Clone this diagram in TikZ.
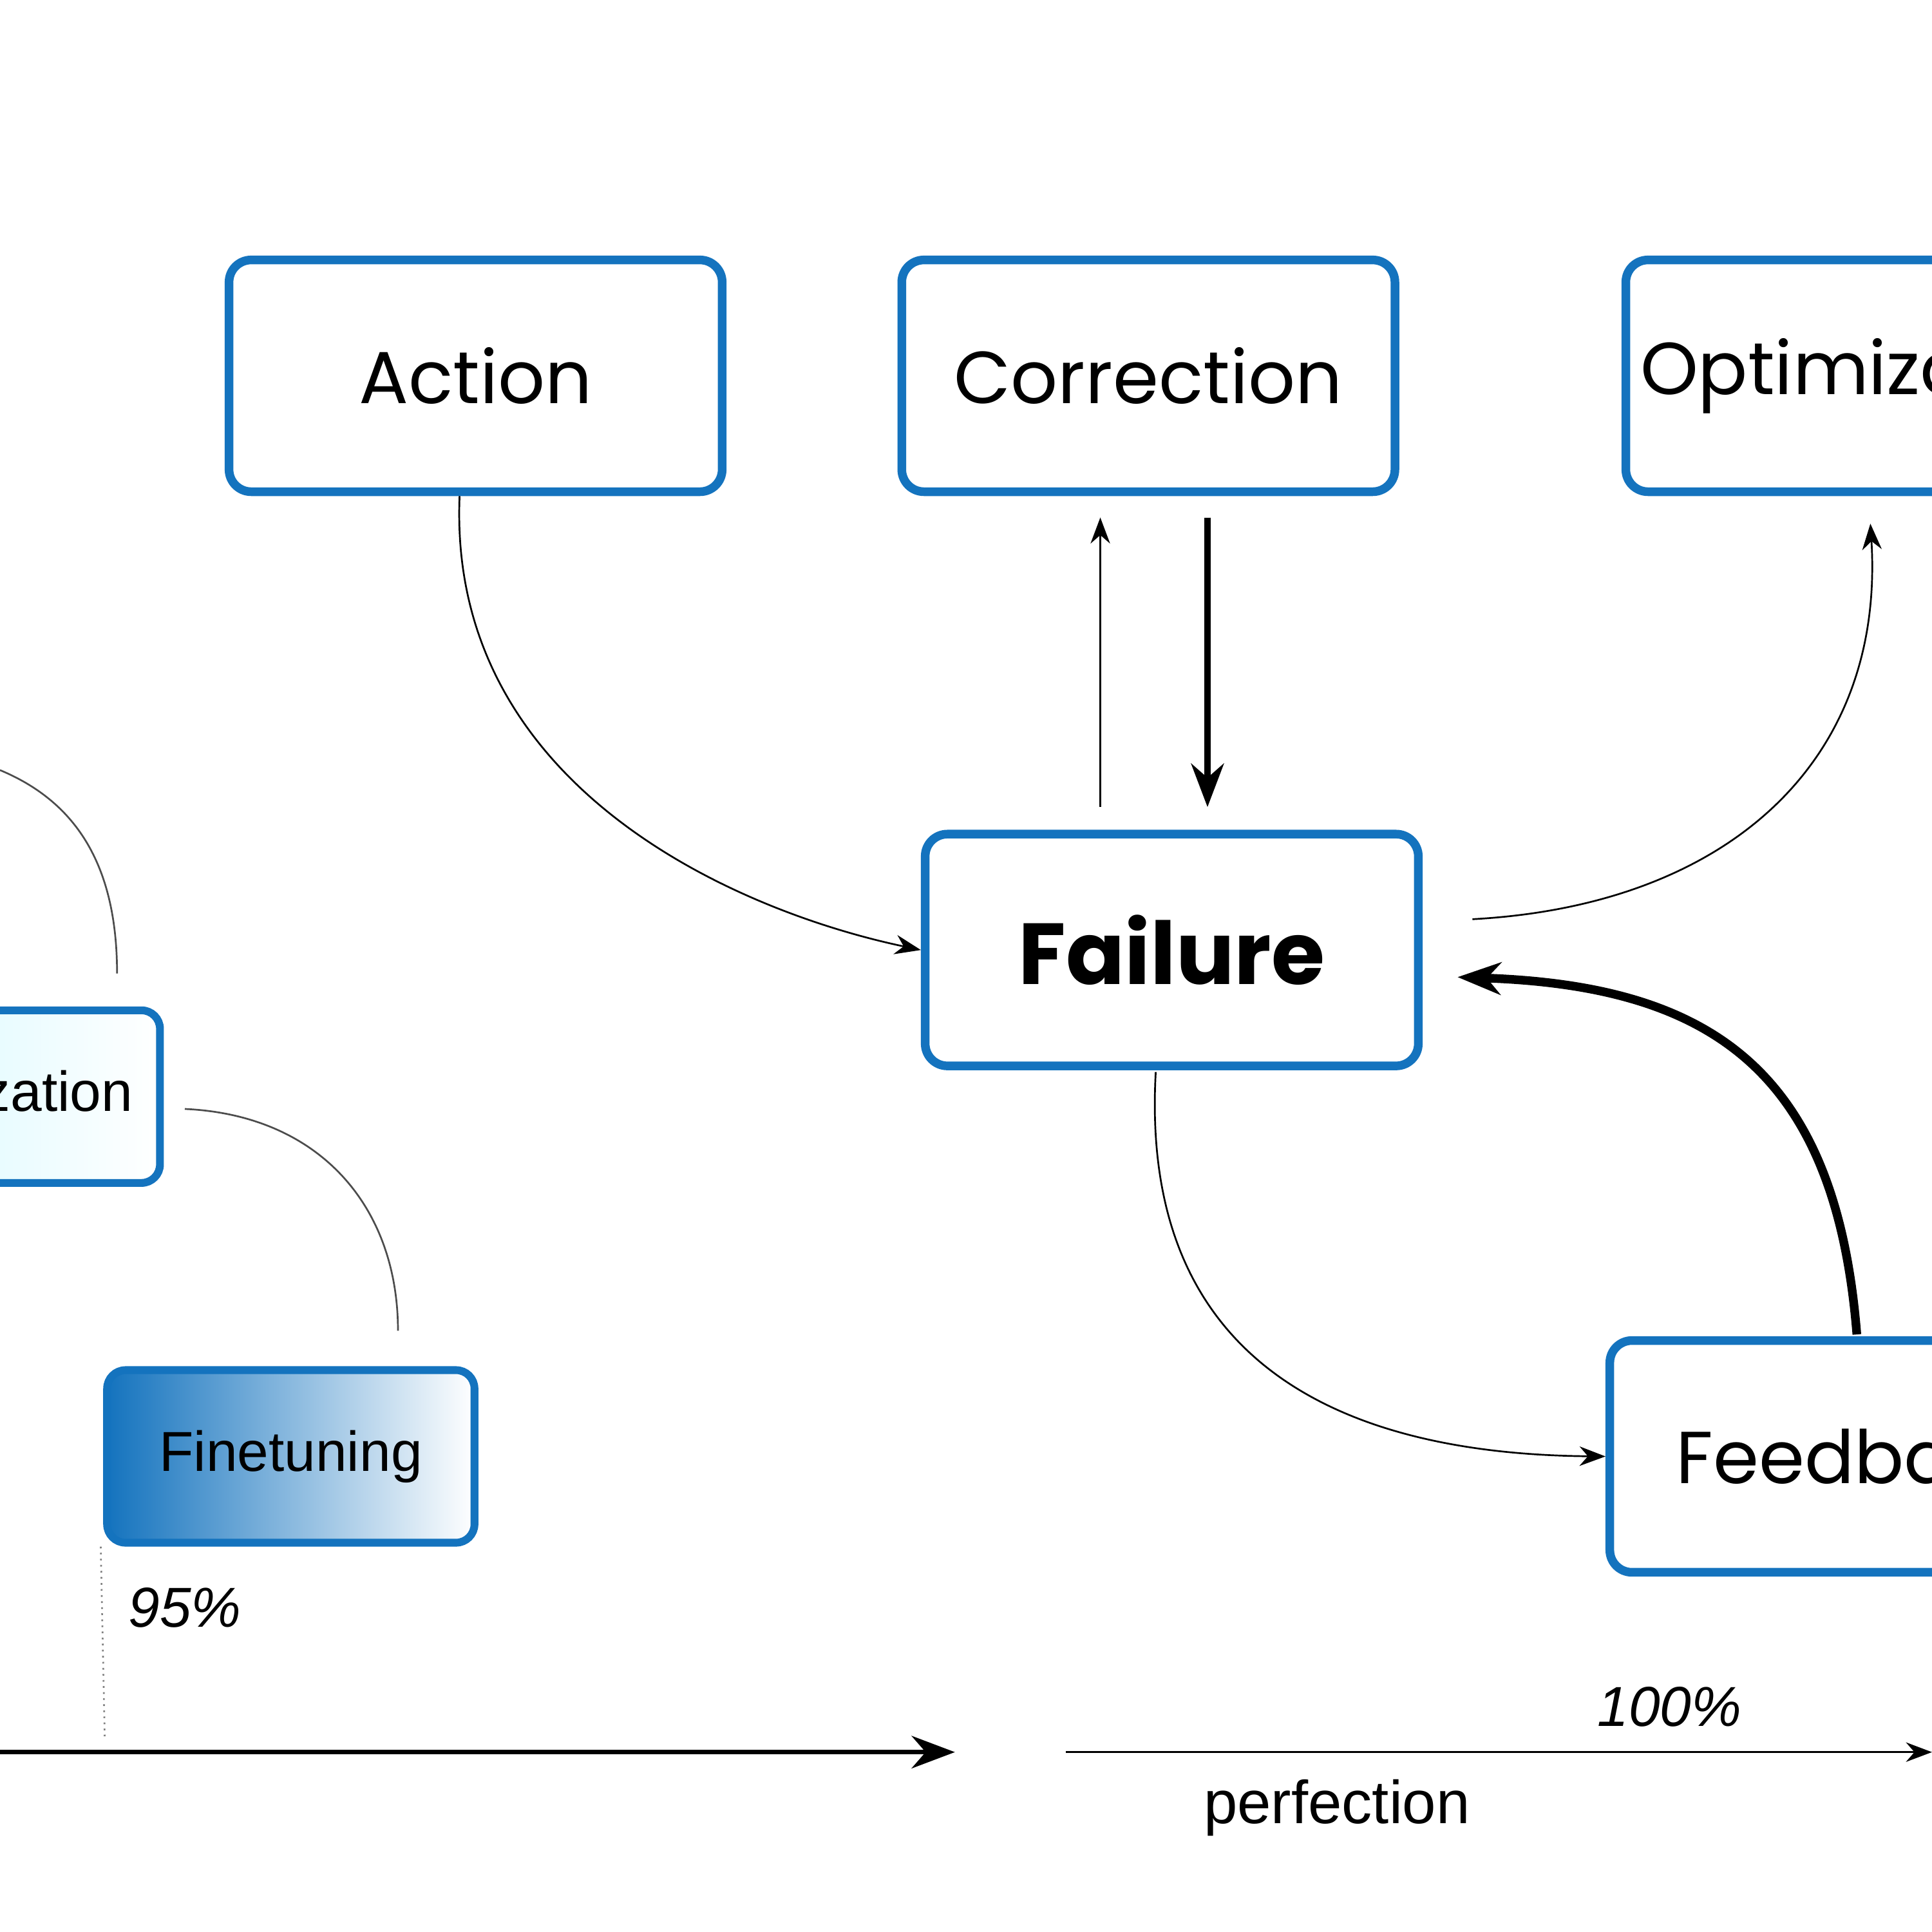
\documentclass[tikz,border=0pt]{standalone}
\usepackage{fontspec}
\setmainfont{Poppins}
\newfontfamily\helv{Liberation Sans}
\usetikzlibrary{arrows.meta,positioning,shapes.geometric}
\definecolor{boxblue}{RGB}{20,115,190}
\tikzstyle{stage} = [rectangle, rounded corners=0.18cm, minimum width=4cm, minimum height=1.88cm, text centered, draw=boxblue, line width=2pt, font=\fontsize{17}{20}\selectfont]
\tikzstyle{small} = [rectangle, rounded corners=0.15cm, minimum width=2.98cm, minimum height=1.4cm, text centered, draw=boxblue, line width=1.8pt, font=\helv\fontsize{13}{16}\selectfont]
\tikzstyle{arrow} = [thin,-{Stealth[length=6pt]}]
\tikzstyle{bigarrow} = [line width=1.6pt,-{Stealth[length=10pt]}]
\begin{document}
\begin{tikzpicture}[x=0.01cm,y=-0.01cm]
                    \useasboundingbox (0,0) rectangle (1568,1568);
                    \clip (0,0) rectangle (1568,1568);
                    \node (Act) [stage] at (386,305) {Action};
                    \node (Cor) [stage] at (932,305) {Correction};
                    \node (Opt) [stage, anchor=west] at (1316,305) {Optimization};
                    \node (Fail) [stage, font=\bfseries\fontsize{20}{24}\selectfont] at (951,771) {Failure};
                    \node (Feed) [stage, anchor=west] at (1303,1182) {Feedback};
                    \node (Opt2) [small, anchor=east, left color=blue!15!cyan!20, right color=white, shading angle=90] at (133,890) {Optimization};
                    \node (Fine) [small, left color=boxblue, right color=white] at (236,1182) {Finetuning};
                    \node (pct) [font=\helv\itshape\fontsize{13}{16}\selectfont] at (150,1305) {95\%};
                    \node (full) [font=\helv\itshape\fontsize{13}{16}\selectfont] at (1355,1385) {100\%};
                    \node (perf) [font=\helv\fontsize{14}{17}\selectfont] at (1085,1467) {perfection};
                    \coordinate (A0) at (0,1422);
                    \coordinate (A1) at (775,1422);
                    \coordinate (B0) at (865,1422);
                    \coordinate (B1) at (1568,1422);
                    \coordinate (D1) at (85,1410);
                    \draw [bigarrow, line width=1pt] (A0) -- (A1);
                    \draw [arrow] (B0) -- (B1);
                    \draw [densely dotted, gray] (Fine.south west) ++(-2,0) -- (D1);
                    % links between the stages
                    \draw [arrow] (Act.south) ++(-13,0) .. controls (363,640) and (600,740) .. (Fail.west);
                    \draw [arrow] (893,655) -- (893,420);
                    \draw [bigarrow] (980,420) -- (980,655);
                    \draw [arrow] (1195,746) .. controls (1400,735) and (1530,620) .. (1518,425);
                    \draw [arrow] (938,870) .. controls (925,1100) and (1080,1180) .. (Feed.west);
                    \draw [bigarrow, line width=2pt] (1507,1083) .. controls (1490,870) and (1390,800) .. (1183,793);
                    % faded left part
                    \draw [gray!60!black, thin] (0,625) .. controls (60,650) and (95,700) .. (95,790);
                    \draw [gray!60!black, thin] (150,900) .. controls (260,905) and (323,980) .. (323,1080);
                \end{tikzpicture}
\end{document}
